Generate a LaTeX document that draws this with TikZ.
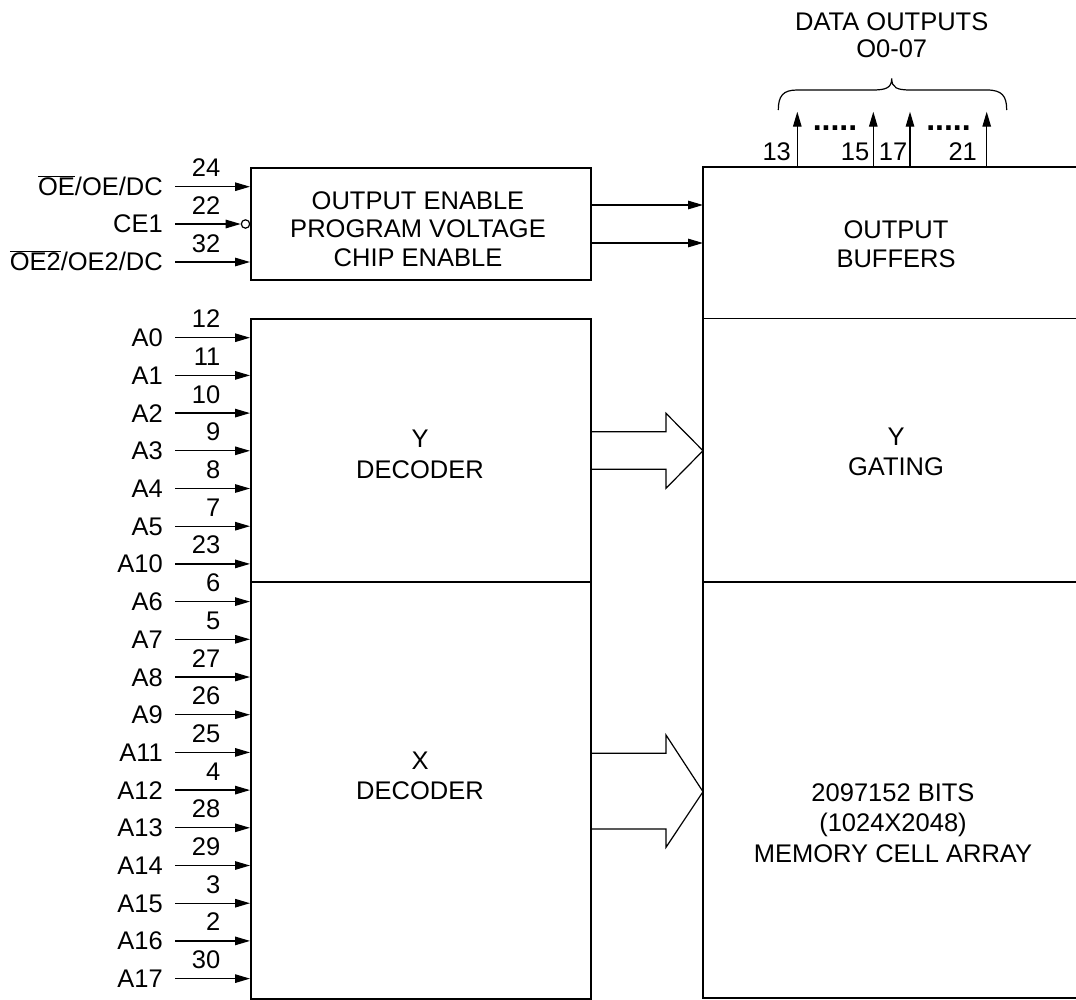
\documentclass[tikz,border=0pt]{standalone}
\usepackage{fontspec}
\setmainfont{Liberation Sans}
\usetikzlibrary{arrows.meta}
\begin{document}
\begin{tikzpicture}[x=1pt,y=-1pt,
  box/.style={draw, line width=2pt, inner sep=0pt},
  divider/.style={line width=1.1pt},
  pin/.style={line width=1.3pt, -{Triangle[length=15pt,width=8.5pt]}},
  hollow/.style={line width=1.2pt},
  txt/.style={inner sep=0pt, font=\fontsize{25.5}{29}\selectfont},
  dots/.style={inner sep=0pt, font=\bfseries\fontsize{32}{32}\selectfont},
  ]
\useasboundingbox (0,0) rectangle (1076,999);

% ---------- boxes ----------
\node[box, minimum width=340pt, minimum height=112pt, anchor=north west] (ctl) at (250,167) {};
\node[box, minimum width=340pt, minimum height=680pt, anchor=north west] (dec) at (250,318) {};
\coordinate (mtl) at (703,167);
\coordinate (mbl) at (703,998);
\draw[line width=2pt] (1076,167) -- (mtl) -- (mbl) -- (1076,998);
\draw[divider] (703,318.3) -- (1076,318.3);
\draw[divider] (703,582) -- (1076,582);
\draw[divider] (250,582) -- (590,582);

% ---------- box texts ----------
\node[txt, anchor=base] (t1) at (418,209) {OUTPUT ENABLE};
\node[txt, anchor=base] (t2) at (418,237.5) {PROGRAM VOLTAGE};
\node[txt, anchor=base] (t3) at (418,266) {CHIP ENABLE};
\node[txt, anchor=base] (t4) at (896,238.3) {OUTPUT};
\node[txt, anchor=base] (t5) at (896,267.3) {BUFFERS};
\node[txt, anchor=base] (t6) at (896,445.7) {Y};
\node[txt, anchor=base] (t7) at (896,475) {GATING};
\node[txt, anchor=base] (t8) at (420,447) {Y};
\node[txt, anchor=base] (t9) at (420,478) {DECODER};
\node[txt, anchor=base] (t10) at (420,769) {X};
\node[txt, anchor=base] (t11) at (420,799) {DECODER};
\node[txt, anchor=base] (t12) at (893,801) {2097152 BITS};
\node[txt, anchor=base] (t13) at (893,831) {(1024X2048)};
\node[txt, anchor=base] (t14) at (893,862) {MEMORY CELL ARRAY};

% ---------- control inputs ----------
\coordinate (c1) at (175,186.7);
\coordinate (c2) at (175,224);
\coordinate (c3) at (175,262);
\node[txt, anchor=base east] (lc1) at (163,195) {$\overline{\hbox{OE}}$/OE/DC};
\node[txt, anchor=base east] (lc2) at (163,232.5) {CE1};
\node[txt, anchor=base east] (lc3) at (163,270.5) {$\overline{\hbox{OE2}}$/OE2/DC};
\node[txt, anchor=base east] (nc1) at (220.5,176.7) {24};
\node[txt, anchor=base east] (nc2) at (220.5,214) {22};
\node[txt, anchor=base east] (nc3) at (220.5,252) {32};
\node[circle, draw, line width=1.2pt, minimum size=8.4pt, inner sep=0pt] (bub) at (245.5,224) {};
\draw[pin] (c1) -- (c1 -| ctl.west);
\draw[pin] (c2) -- (bub.west);
\draw[pin] (c3) -- (c3 -| ctl.west);

% ---------- control outputs ----------
\coordinate (o1) at (590,205);
\coordinate (o2) at (590,243);
\draw[pin] (o1) -- (o1 -| mtl);
\draw[pin] (o2) -- (o2 -| mtl);

% ---------- address inputs ----------
\foreach \lab/\num [count=\i from 0] in {A0/12, A1/11, A2/10, A3/9, A4/8, A5/7, A10/23, A6/6, A7/5, A8/27, A9/26, A11/25, A12/4, A13/28, A14/29, A15/3, A16/2, A17/30} {
  \pgfmathsetmacro\yy{337.7+37.7*\i}
  \coordinate (p\i) at (175,\yy);
  \node[txt, anchor=base east] (l\i) at (163,\yy+9) {\lab};
  \node[txt, anchor=base east] (n\i) at (220.5,\yy-10) {\num};
  \draw[pin] (p\i) -- (p\i -| dec.west);
}

% ---------- hollow bus arrows ----------
\draw[hollow] (590,431.7) -- (666,431.7) -- (666,413.3) -- (703,450.7) -- (666,488.3) -- (666,469.3) -- (590,469.3);
\draw[hollow] (590,753.3) -- (666,753.3) -- (666,735) -- (703,791.7) -- (666,847.3) -- (666,829) -- (590,829);

% ---------- data outputs ----------
\foreach \x [count=\k] in {797.3, 873.3, 910, 986.7} {
  \coordinate (d\k) at (\x,167);
  \coordinate (e\k) at (\x,111.7);
  \draw[pin] (d\k) -- (e\k);
}
\node[txt, anchor=base] (q1) at (776.7,160.7) {13};
\node[txt, anchor=base] (q2) at (855,160.7) {15};
\node[txt, anchor=base] (q3) at (893,160.7) {17};
\node[txt, anchor=base] (q4) at (962.7,160.7) {21};
\node[dots, anchor=base] (dt1) at (835,130) {.....};
\node[dots, anchor=base] (dt2) at (948.5,130) {.....};

\draw[line width=1.2pt] (778.3,110) .. controls (778.3,96) and (783,90) .. (797,90)
  -- (872,90) .. controls (886,90) and (891.7,88) .. (891.7,78.3)
  .. controls (891.7,88) and (897,90) .. (911,90)
  -- (987,90) .. controls (1002,90) and (1006.7,96) .. (1006.7,110);
\node[txt, anchor=base] (h1) at (891.7,30) {DATA OUTPUTS};
\node[txt, anchor=base] (h2) at (891.7,57) {O0-07};
\end{tikzpicture}
\end{document}
